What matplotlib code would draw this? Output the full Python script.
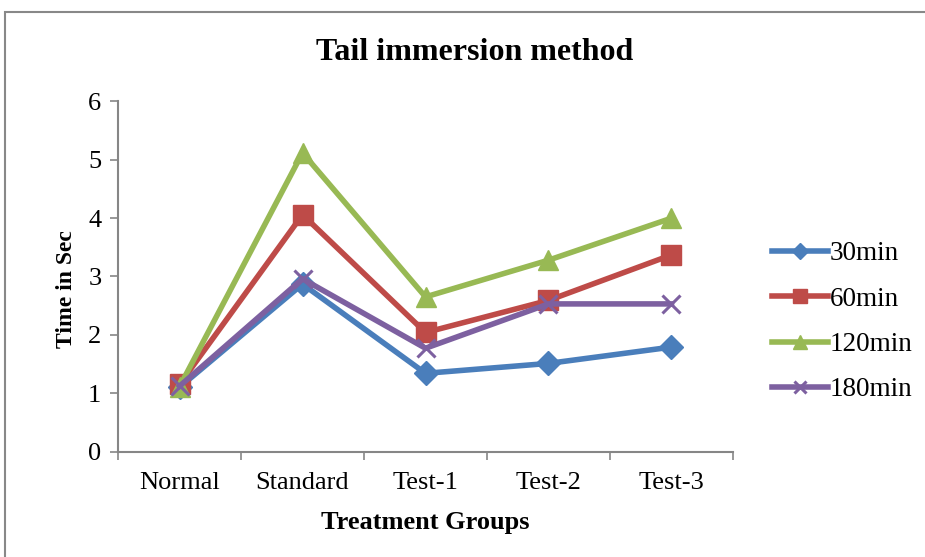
import matplotlib
matplotlib.use("Agg")
import matplotlib.pyplot as plt
from matplotlib.patches import Rectangle

# treatment groups along the x axis
groups = ["Normal", "Standard", "Test-1", "Test-2", "Test-3"]

# time in seconds
t30 = [1.10, 2.87, 1.34, 1.51, 1.79]
t60 = [1.15, 4.06, 2.04, 2.59, 3.37]
t120 = [1.11, 5.12, 2.65, 3.28, 4.00]
t180 = [1.12, 2.96, 1.77, 2.53, 2.53]

y_ticks = [0, 1, 2, 3, 4, 5, 6]

SERIES = [
    ("30min", t30, "#4A7EBB", "D", 12),
    ("60min", t60, "#BE4B48", "s", 14),
    ("120min", t120, "#98B954", "^", 15),
    ("180min", t180, "#7D60A0", "x", 13),
]

plt.rcParams["font.family"] = ["Liberation Serif", "DejaVu Serif"]

fig = plt.figure(figsize=(9.25, 5.57), dpi=100)
ax = fig.add_axes([0.1276, 0.1894, 0.6648, 0.6284])

x = list(range(len(groups)))
for name, vals, color, marker, ms in SERIES:
    ax.plot(x, vals, color=color, lw=4, marker=marker, markersize=ms,
            markeredgewidth=2.2 if marker == "x" else 1,
            markeredgecolor=color, markerfacecolor=color, label=name)

ax.set_xlim(-0.5, len(groups) - 0.5)
ax.set_ylim(0, 6)
ax.set_yticks(y_ticks)
ax.set_xticks(x)
ax.set_xticklabels(groups)
ax.set_xticks([i - 0.5 for i in range(len(groups) + 1)], minor=True)

for s in ("top", "right"):
    ax.spines[s].set_visible(False)
for s in ("left", "bottom"):
    ax.spines[s].set_color("#868686")
    ax.spines[s].set_linewidth(1.5)

ax.tick_params(axis="x", which="major", length=0, pad=15, labelsize=19)
ax.tick_params(axis="x", which="minor", length=6, width=1.2, color="#868686")
ax.tick_params(axis="y", length=6, width=1.2, color="#868686", pad=6, labelsize=19)

# title sits over the whole chart area, not just the plot
fig.text(0.5135, 0.905, "Tail immersion method", fontsize=23, fontweight="bold",
         ha="center", va="center")
ax.set_xlabel("Treatment Groups", fontsize=19, fontweight="bold", labelpad=12)
ax.set_ylabel("Time in Sec", fontsize=17, fontweight="bold")
ax.yaxis.set_label_coords(-0.067, 0.465)

leg = ax.legend(loc="center left", bbox_to_anchor=(0.835, 0.422),
                bbox_transform=fig.transFigure, frameon=False, fontsize=19.5,
                handlelength=2.05, handletextpad=0.08, labelspacing=0.75,
                borderpad=0, borderaxespad=0, markerscale=0.7)
for h in leg.legend_handles:
    h.set_linewidth(4)

# outer chart frame
fig.patches.append(Rectangle((0.0054, -0.02), 1.1, 0.9985, transform=fig.transFigure,
                             fill=False, edgecolor="#888888", lw=1.5))

fig.savefig("out.png", dpi=100)
